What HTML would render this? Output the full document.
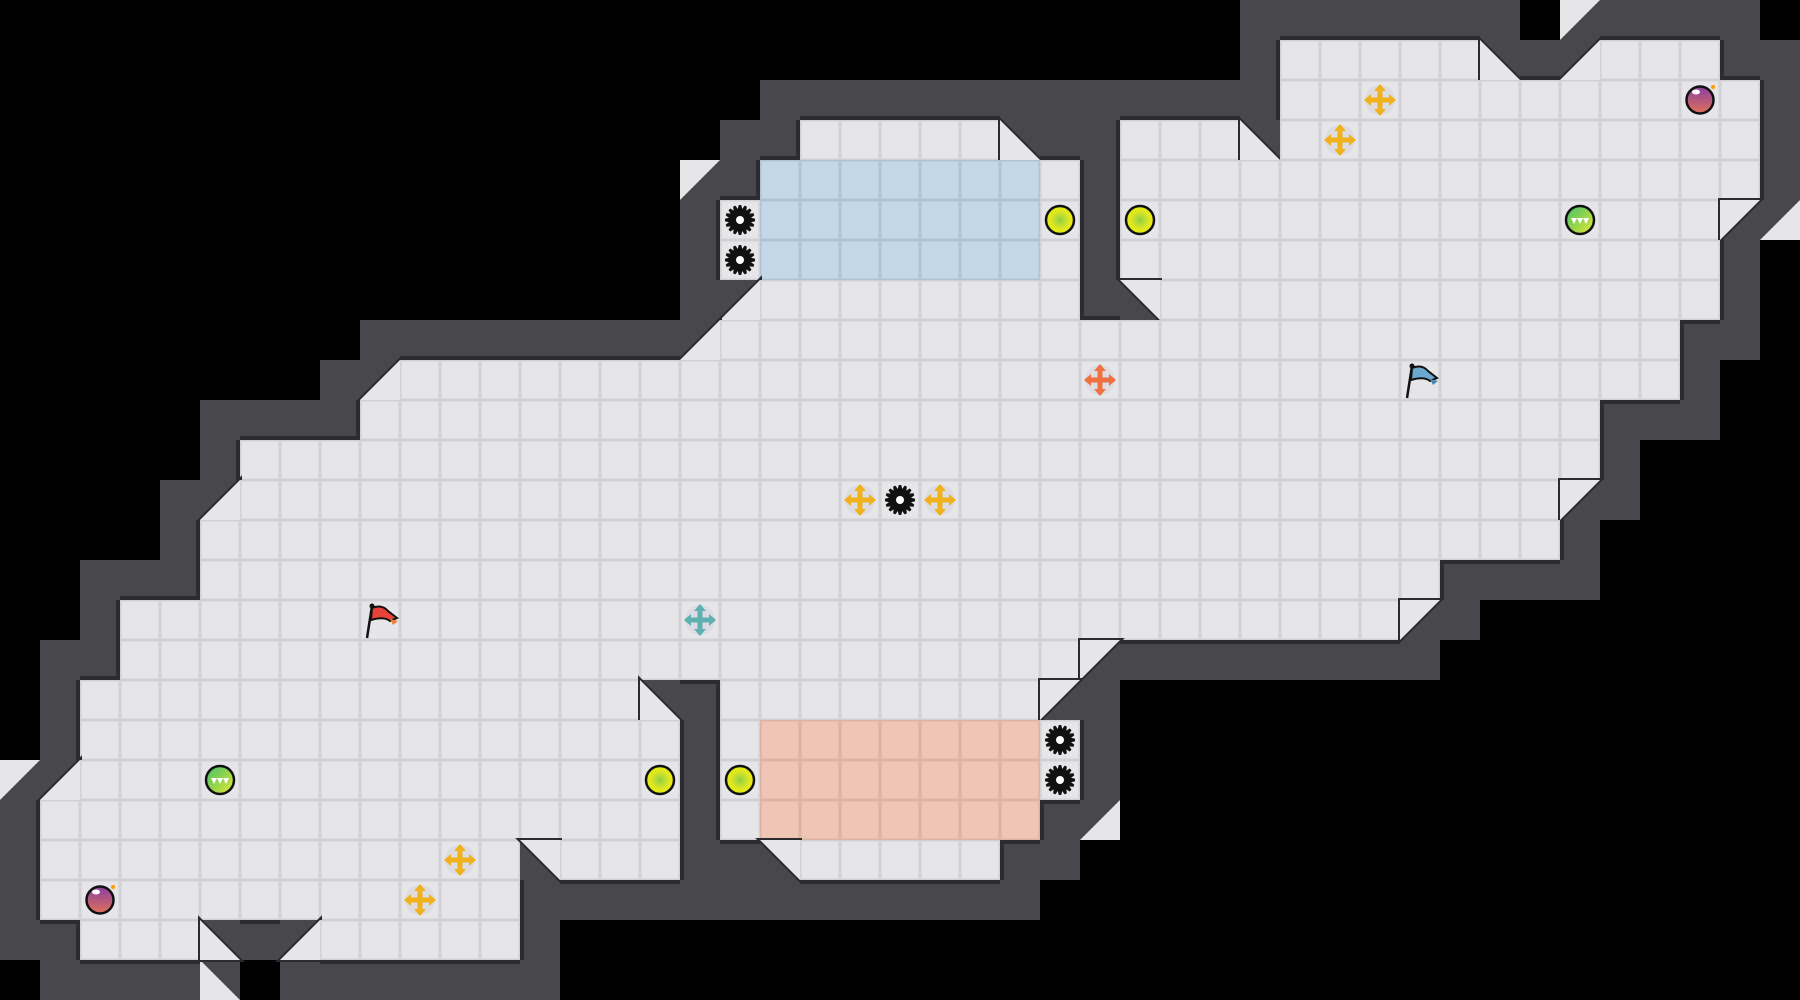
<!DOCTYPE html>
<html><head><meta charset="utf-8"><style>
html,body{margin:0;padding:0;background:#000;}
svg{display:block}
</style></head><body>
<svg id="m" width="1800" height="1000" viewBox="0 0 1800 1000" xmlns="http://www.w3.org/2000/svg">
<defs>
<radialGradient id="boost" cx="0.5" cy="0.5" r="0.5"><stop offset="0" stop-color="#8fd14a"/><stop offset="0.7" stop-color="#e3e81a"/></radialGradient>
<linearGradient id="pot" x1="0" y1="0" x2="0" y2="1"><stop offset="0" stop-color="#8a3fa0"/><stop offset="1" stop-color="#e0705a"/></linearGradient>
<linearGradient id="gb" x1="0" y1="0" x2="1" y2="1"><stop offset="0" stop-color="#3fc06a"/><stop offset="1" stop-color="#e8e830"/></linearGradient>
</defs>
<rect width="1800" height="1000" fill="#000"/>
<g id="tiles"></g>
<g id="items"></g>
</svg>
<script>
var W=45,H=25,T=40;
var g=[];for(var r=0;r<H;r++){g.push([]);for(var c=0;c<W;c++)g[r].push(' ');}
function F(r,a,b,ch){for(var c=a;c<=b;c++)g[r][c]=ch||'.';}
F(1,32,36);F(1,40,42);
F(2,32,43);
F(3,20,24);F(3,28,30);F(3,32,43);
F(4,19,26);F(4,28,43);
F(5,18,26);F(5,28,42);
F(6,18,26);F(6,28,42);
F(7,19,26);F(7,29,42);
F(8,18,41);F(9,10,41);F(10,9,39);F(11,6,39);F(12,6,38);F(13,5,38);F(14,5,35);
F(15,3,34);F(16,3,26);
F(17,2,15);F(17,18,25);
F(18,2,16);F(18,18,25);F(18,26,26);
F(19,2,16);F(19,18,26);
F(20,1,16);F(20,18,25);
F(21,1,12);F(21,14,16);F(21,20,24);
F(22,1,12);
F(23,2,4);F(23,8,12);
for(var r=4;r<=6;r++)F(r,19,25,'b');
for(var r=18;r<=20;r++)F(r,19,25,'s');
var D=[[1,37,'2'],[1,39,'1'],[3,25,'2'],[3,31,'2'],[5,43,'4'],[7,18,'1'],[7,28,'3'],[8,17,'1'],[9,9,'1'],
[12,5,'1'],[12,39,'4'],[15,35,'4'],[16,27,'4'],[17,16,'2'],[17,26,'4'],[19,1,'1'],[21,13,'3'],[21,19,'3'],[23,5,'2'],[23,7,'1']];
D.forEach(function(d){g[d[0]][d[1]]=d[2];});
function isF(ch){return ch!==' '&&ch!=='#';}
function isFull(ch){return ch==='.'||ch==='b'||ch==='s';}
function inb(r,c){return r>=0&&r<H&&c>=0&&c<W;}
var wall=[];for(var r=0;r<H;r++){wall.push([]);for(var c=0;c<W;c++){var w=false;if(!isF(g[r][c])){
 for(var dr=-1;dr<=1;dr++)for(var dc=-1;dc<=1;dc++){var rr=r+dr,cc=c+dc;if(!inb(rr,cc))continue;
  if(dr===0||dc===0){if(isF(g[rr][cc]))w=true;}else{if(isFull(g[rr][cc]))w=true;}}
}wall[r].push(w);}}
wall[22][17]=wall[22][18]=wall[22][19]=true;wall[2][26]=true;
var O=[[4,17,'4'],[0,39,'4'],[5,44,'1'],[19,0,'4'],[24,5,'2'],[20,27,'1']];
var s='';
var WC='#48474c',ED='#2c2c30';
function tri(x,y,ch){var p;
  if(ch==='1')p=[[x+40,y],[x+40,y+40],[x,y+40]];
  if(ch==='2')p=[[x,y],[x+40,y+40],[x,y+40]];
  if(ch==='3')p=[[x,y],[x+40,y],[x+40,y+40]];
  if(ch==='4')p=[[x,y],[x+40,y],[x,y+40]];
  return p.map(function(a){return a.join(',')}).join(' ');}
for(var r=0;r<H;r++)for(var c=0;c<W;c++){
 var x=c*T,y=r*T;
 if(wall[r][c]) s+='<rect x="'+x+'" y="'+y+'" width="40" height="40" fill="'+WC+'"/>';
}
O.forEach(function(o){var x=o[1]*T,y=o[0]*T;s+='<rect x="'+x+'" y="'+y+'" width="40" height="40" fill="'+WC+'"/><polygon points="'+tri(x,y,o[2])+'" fill="#e6e6e9"/>';});
for(var r=0;r<H;r++)for(var c=0;c<W;c++){
 var x=c*T,y=r*T,ch=g[r][c];
 if(isFull(ch)){
  var fc=ch==='b'?'#c5d8e7':ch==='s'?'#efc6b6':'#e6e6e9';
  var lc=ch==='b'?'#b0c4d4':ch==='s'?'#dcb2a2':'#d2d2d6';
  s+='<rect x="'+x+'" y="'+y+'" width="40" height="40" fill="'+fc+'"/>';
  s+='<rect x="'+(x+0.75)+'" y="'+(y+0.75)+'" width="38.5" height="38.5" fill="none" stroke="'+lc+'" stroke-width="1.5"/>';
 } else if('1234'.indexOf(ch)>=0){
  s+='<rect x="'+x+'" y="'+y+'" width="40" height="40" fill="'+WC+'"/>';
  var pts=tri(x,y,ch);
  s+='<polygon points="'+pts+'" fill="#e6e6e9" stroke="'+ED+'" stroke-width="4"/>';
  s+='<polygon points="'+pts+'" fill="#e6e6e9"/>';
 }
}
function fl(rr,cc){return inb(rr,cc)&&isFull(g[rr][cc]);}
for(var r=0;r<H;r++)for(var c=0;c<W;c++){
 if(!wall[r][c])continue;var x=c*T,y=r*T;
 if(fl(r+1,c))s+='<rect x="'+x+'" y="'+(y+36)+'" width="40" height="4" fill="'+ED+'"/>';
 if(fl(r-1,c))s+='<rect x="'+x+'" y="'+y+'" width="40" height="4" fill="'+ED+'"/>';
 if(fl(r,c+1))s+='<rect x="'+(x+36)+'" y="'+y+'" width="4" height="40" fill="'+ED+'"/>';
 if(fl(r,c-1))s+='<rect x="'+x+'" y="'+y+'" width="4" height="40" fill="'+ED+'"/>';
}
document.getElementById('tiles').innerHTML=s;
var it='';
function ctr(r,c){return [c*T+20,r*T+20];}
function gear(r,c){var p=ctr(r,c),d='';for(var i=0;i<16;i++){d+='<polygon points="'+(p[0]-3)+','+(p[1]-8)+' '+(p[0]+3)+','+(p[1]-8)+' '+(p[0]+1.2)+','+(p[1]-15)+' '+(p[0]-1.2)+','+(p[1]-15)+'" fill="#111" transform="rotate('+(i*22.5)+' '+p[0]+' '+p[1]+')"/>';}
 it+=d+'<circle cx="'+p[0]+'" cy="'+p[1]+'" r="9.5" fill="#111"/><circle cx="'+p[0]+'" cy="'+p[1]+'" r="4" fill="#fff"/>';}
function boost(r,c){var p=ctr(r,c);it+='<circle cx="'+p[0]+'" cy="'+p[1]+'" r="14" fill="url(#boost)" stroke="#111" stroke-width="2.5"/>';}
function pot(r,c){var p=ctr(r,c);it+='<circle cx="'+p[0]+'" cy="'+p[1]+'" r="13.5" fill="url(#pot)" stroke="#111" stroke-width="2.5"/><ellipse cx="'+(p[0]-4)+'" cy="'+(p[1]-8)+'" rx="4" ry="2.5" fill="#fff"/><circle cx="'+(p[0]+13)+'" cy="'+(p[1]-13)+'" r="2" fill="#f90"/>';}
function gb(r,c){var p=ctr(r,c);it+='<circle cx="'+p[0]+'" cy="'+p[1]+'" r="14" fill="url(#gb)" stroke="#111" stroke-width="2.5"/><path d="M'+(p[0]-9)+' '+(p[1]-2)+'h18l-3 6-3-6-3 6-3-6-3 6z" fill="#fff"/>';}
function plus(r,c,col){var p=ctr(r,c),x=p[0],y=p[1];
 it+='<circle cx="'+x+'" cy="'+y+'" r="15" fill="#dcdce2"/>';
 it+='<rect x="'+(x-2.5)+'" y="'+(y-13)+'" width="5" height="26" fill="'+col+'"/><rect x="'+(x-13)+'" y="'+(y-2.5)+'" width="26" height="5" fill="'+col+'"/>';
 it+='<polygon points="'+x+','+(y-16)+' '+(x-6)+','+(y-9)+' '+(x+6)+','+(y-9)+'" fill="'+col+'"/>';
 it+='<polygon points="'+x+','+(y+16)+' '+(x-6)+','+(y+9)+' '+(x+6)+','+(y+9)+'" fill="'+col+'"/>';
 it+='<polygon points="'+(x-16)+','+y+' '+(x-9)+','+(y-6)+' '+(x-9)+','+(y+6)+'" fill="'+col+'"/>';
 it+='<polygon points="'+(x+16)+','+y+' '+(x+9)+','+(y-6)+' '+(x+9)+','+(y+6)+'" fill="'+col+'"/>';}
function flag(r,c,col,col2){var x=c*T,y=r*T;
 it+='<line x1="'+(x+12)+'" y1="'+(y+6)+'" x2="'+(x+7)+'" y2="'+(y+38)+'" stroke="#111" stroke-width="2.5"/>';
 it+='<path d="M'+(x+12)+' '+(y+8)+'q10 -4 16 3l9 7-7 3q-6-5-19-1z" fill="'+col+'" stroke="#111" stroke-width="2"/>';
 it+='<path d="M'+(x+30)+' '+(y+19)+'l8 2-5 4z" fill="'+col2+'"/><circle cx="'+(x+12)+'" cy="'+(y+6)+'" r="2.5" fill="#111"/>';}
gear(5,18);gear(6,18);gear(18,26);gear(19,26);gear(12,22);
boost(5,26);boost(5,28);boost(19,16);boost(19,18);
gb(5,39);gb(19,5);pot(2,42);pot(22,2);
var Y='#f2b21e';plus(2,34,Y);plus(3,33,Y);plus(12,21,Y);plus(12,23,Y);plus(21,11,Y);plus(22,10,Y);
plus(9,27,'#f07040');plus(15,17,'#5fb0b0');
flag(15,9,'#e8423a','#f08030');flag(9,35,'#6aa8d0','#4a88b0');
document.getElementById('items').innerHTML=it;
</script>
</body></html>
